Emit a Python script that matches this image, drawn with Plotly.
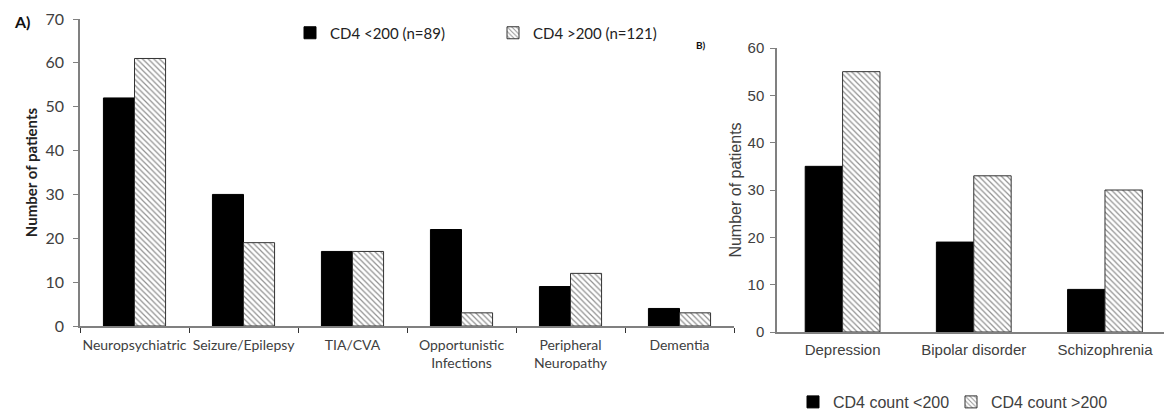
import plotly.graph_objects as go

# Panel A data
cats_a = ["Neuropsychiatric", "Seizure/Epilepsy", "TIA/CVA",
          "Opportunistic<br>Infections", "Peripheral<br>Neuropathy", "Dementia"]
low_a = [52, 30, 17, 22, 9, 4]
high_a = [61, 19, 17, 3, 12, 3]
names_a = ["CD4 <200 (n=89)", "CD4 >200 (n=121)"]

# Panel B data
cats_b = ["Depression", "Bipolar disorder", "Schizophrenia"]
low_b = [35, 19, 9]
high_b = [55, 33, 30]
names_b = ["CD4 count <200", "CD4 count >200"]

yticks_a = [0, 10, 20, 30, 40, 50, 60, 70]
yticks_b = [0, 10, 20, 30, 40, 50, 60]

W, H = 1164, 411
FA = "Lato, 'Open Sans', sans-serif"
FB = "'Liberation Sans', Arial, sans-serif"
TXT = "#404040"
AX = "#808080"

hatch = dict(shape="\\", fgcolor="#222222", bgcolor="white", size=4, solidity=0.3)

fig = go.Figure()
fig.add_trace(go.Bar(x=cats_a, y=low_a, name=names_a[0], marker=dict(color="black", line=dict(color="black", width=1)),
                     xaxis="x", yaxis="y", legend="legend"))
fig.add_trace(go.Bar(x=cats_a, y=high_a, name=names_a[1],
                     marker=dict(color="white", pattern=hatch, line=dict(color="#333333", width=1)),
                     xaxis="x", yaxis="y", legend="legend"))
fig.add_trace(go.Bar(x=cats_b, y=low_b, name=names_b[0], marker=dict(color="black", line=dict(color="black", width=1)),
                     xaxis="x2", yaxis="y2", legend="legend2"))
fig.add_trace(go.Bar(x=cats_b, y=high_b, name=names_b[1],
                     marker=dict(color="white", pattern=hatch, line=dict(color="#333333", width=1)),
                     xaxis="x2", yaxis="y2", legend="legend2"))

def px_x(p):
    return p / W

def px_y(p):
    return (H - p) / H

fig.update_layout(
    width=W, height=H,
    margin=dict(l=0, r=0, t=0, b=0, autoexpand=False),
    paper_bgcolor="white", plot_bgcolor="white",
    barmode="group", bargap=0.43, bargroupgap=0,
    xaxis=dict(domain=[px_x(80), px_x(734)], range=[-0.5, 5.5], type="category",
               showline=True, linecolor=AX, linewidth=1.5,
               ticks="outside", ticklen=5, tickcolor="#333333", tickson="boundaries",
               tickangle=0, automargin=False, ticklabelstandoff=5,
               tickfont=dict(family=FA, size=14, color=TXT), anchor="y", showgrid=False),
    yaxis=dict(domain=[px_y(326), px_y(19)], range=[0, 70], tickvals=yticks_a,
               showline=True, linecolor=AX, linewidth=1.5, automargin=False,
               ticks="outside", ticklen=5, tickcolor=AX, ticklabelstandoff=6,
               tickfont=dict(family=FA, size=16, color=TXT), showgrid=False, zeroline=False,
               title=dict(text="<b>Number of patients</b>", font=dict(family=FA, size=15, color="#222222"),
                          standoff=4), anchor="x"),
    xaxis2=dict(domain=[px_x(777), 1.0], range=[-0.5, 2.45], type="category",
                showline=True, linecolor=AX, linewidth=1.5, ticks="", automargin=False,
                tickangle=0, ticklabelstandoff=3,
                tickfont=dict(family=FB, size=15, color=TXT), anchor="y2", showgrid=False),
    yaxis2=dict(domain=[px_y(332), px_y(48)], range=[0, 60], tickvals=yticks_b,
                showline=True, linecolor=AX, linewidth=1.5, automargin=False,
                ticks="outside", ticklen=5, tickcolor=AX, ticklabelstandoff=3,
                tickfont=dict(family=FB, size=15, color=TXT), showgrid=False, zeroline=False,
                title=dict(text="Number of patients", font=dict(family=FB, size=16, color=TXT),
                           standoff=2), anchor="x2"),
    legend=dict(orientation="h", x=px_x(290), y=px_y(33), xanchor="left", yanchor="middle",
                entrywidth=158, entrywidthmode="pixels",
                font=dict(family=FA, size=15, color="#222222"), bgcolor="rgba(0,0,0,0)",
                itemwidth=30, tracegroupgap=0),
    legend2=dict(orientation="h", x=px_x(793), y=px_y(402), xanchor="left", yanchor="middle",
                 entrywidth=113, entrywidthmode="pixels",
                 font=dict(family=FB, size=16, color=TXT), bgcolor="rgba(0,0,0,0)",
                 itemwidth=30),
    showlegend=True,
    annotations=[
        dict(text="<b>A)</b>", x=px_x(12), y=px_y(21), xref="paper", yref="paper",
             xanchor="left", yanchor="middle", showarrow=False,
             font=dict(family=FA, size=16, color="#111111")),
        dict(text="<b>B)</b>", x=px_x(694), y=px_y(45), xref="paper", yref="paper",
             xanchor="left", yanchor="middle", showarrow=False,
             font=dict(family=FA, size=10, color="#111111")),
    ],
)

fig.write_html("out.html")
